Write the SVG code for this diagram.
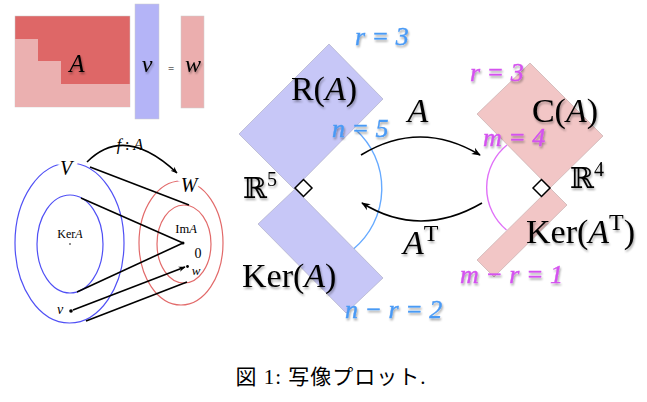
<svg xmlns="http://www.w3.org/2000/svg" width="647" height="402" viewBox="0 0 647 402">
<defs>
<marker id="ah" viewBox="0 0 10 10" refX="9" refY="5" markerWidth="7" markerHeight="7" orient="auto" markerUnits="userSpaceOnUse">
<path d="M0,1 L10,5 L0,9 L3,5 Z" fill="#000"/>
</marker>
<marker id="ahs" viewBox="0 0 10 10" refX="9" refY="5" markerWidth="9" markerHeight="9" orient="auto" markerUnits="userSpaceOnUse">
<path d="M0,1 L10,5 L0,9 L3,5 Z" fill="#000"/>
</marker>
<filter id="sh" x="-20%" y="-20%" width="140%" height="140%">
<feGaussianBlur in="SourceAlpha" stdDeviation="1.2"/>
<feOffset dx="1" dy="1.5" result="b"/>
<feComponentTransfer><feFuncA type="linear" slope="0.35"/></feComponentTransfer>
<feMerge><feMergeNode/><feMergeNode in="SourceGraphic"/></feMerge>
</filter>
</defs>
<style>
.m{font-family:"Liberation Serif","DejaVu Serif",serif;fill:#000}
.i{font-style:italic}
.big{font-size:34px}
.bl{fill:#4a9af5;font-size:26px;font-style:italic;stroke:#4a9af5;stroke-width:0.4}
.mg{fill:#d452ef;font-size:26px;font-style:italic;stroke:#d452ef;stroke-width:0.4}
.ln{stroke:#000;stroke-width:1.6;fill:none}
.bd{fill:#c7c7f7;stroke:#a8a8c0;stroke-width:0.6}
.pd{fill:#f2c6c6;stroke:#c0a8a8;stroke-width:0.6}
.halo{stroke:#fff;stroke-width:7;paint-order:stroke}
</style>

<g id="matrix">
<rect x="15" y="16" width="115" height="91" fill="#de6767" stroke="#ccc" stroke-width="0.5"/>
<polygon points="15,39 38,39 38,61 61,61 61,84 130,84 130,107 15,107" fill="#ebb0b0"/>
<text class="m i" x="77" y="72" font-size="25" text-anchor="middle" filter="url(#sh)">A</text>
</g>
<g id="vecv">
<rect x="135" y="4" width="24" height="115" fill="#b4b4f7" stroke="#ccc" stroke-width="0.5"/>
<text class="m i" x="147" y="72" font-size="24" text-anchor="middle" filter="url(#sh)">v</text>
</g>
<text class="m" x="171" y="72" font-size="11" text-anchor="middle">=</text>
<g id="vecw">
<rect x="181" y="16" width="23" height="92" fill="#ebaeae" stroke="#ccc" stroke-width="0.5"/>
<text class="m i" x="193" y="72" font-size="24" text-anchor="middle" filter="url(#sh)">w</text>
</g>

<g id="setV">
<ellipse cx="69.5" cy="243" rx="54.5" ry="80" fill="none" stroke="#5050f5" stroke-width="1.2"/>
<text class="m i halo" x="66" y="175" font-size="20" text-anchor="middle">V</text>
</g>
<g id="kerA">
<ellipse cx="70" cy="244" rx="33" ry="49" fill="none" stroke="#5050f5" stroke-width="1.2"/>
<text class="m" x="70" y="238" font-size="12" text-anchor="middle">Ker<tspan class="i">A</tspan></text>
<circle cx="70" cy="244" r="0.8" fill="#000"/>
</g>
<g id="setW">
<ellipse cx="181" cy="243" rx="42" ry="62" fill="none" stroke="#e26a6a" stroke-width="1.2"/>
<text class="m i halo" x="189" y="192" font-size="20" text-anchor="middle">W</text>
</g>
<g id="imA">
<ellipse cx="184" cy="244" rx="27" ry="39" fill="none" stroke="#e26a6a" stroke-width="1.2"/>
<text class="m" x="186" y="233" font-size="12.5" text-anchor="middle">Im<tspan class="i">A</tspan></text>
<circle cx="183" cy="243" r="1.5" fill="#000"/>
<text class="m" x="198" y="258" font-size="14" text-anchor="middle">0</text>
<circle cx="187.5" cy="266.5" r="1.4" fill="#000"/>
<text class="m i" x="196" y="275" font-size="13" text-anchor="middle">w</text>
</g>
<g id="pointv">
<circle cx="71" cy="311" r="1.8" fill="#000"/>
<text class="m i" x="60" y="314" font-size="14" text-anchor="middle">v</text>
</g>

<g id="connectors">
<path class="ln" d="M87,162 Q125,124 177,173" marker-end="url(#ah)"/>
<path class="ln" d="M90,167 L189,205"/>
<path class="ln" d="M81,198 L183,243"/>
<path class="ln" d="M77,292 L183,243"/>
<path class="ln" d="M73,310 L185,267" marker-end="url(#ah)"/>
<path class="ln" d="M86,321 L187,282"/>
<path d="M356,130 A79,79 0 0 1 353.5,249" fill="none" stroke="#66aaff" stroke-width="1.4"/>
<path d="M507,145 A55,55 0 0 0 506.5,230" fill="none" stroke="#e070f8" stroke-width="1.4"/>
<path class="ln" d="M361,155 Q420,119 480,155" marker-end="url(#ahs)"/>
<path class="ln" d="M482,203 Q420,239 362,203" marker-end="url(#ahs)"/>
</g>
<text class="m" x="130" y="150" font-size="16" text-anchor="middle"><tspan class="i">f</tspan> : <tspan class="i">A</tspan></text>

<g id="RA">
<polygon class="bd" points="329,44 383,99 294,189 239,134"/>
<text class="m big" x="324" y="100" text-anchor="middle" filter="url(#sh)">R(<tspan class="i">A</tspan>)</text>
<text class="m bl" x="355" y="45" filter="url(#sh)">r = 3</text>
<text class="m bl" x="332" y="137" filter="url(#sh)">n = 5</text>
</g>
<g id="KerA">
<polygon class="bd" points="295,189 383,278 346,313 258,224"/>
<text class="m big" x="242" y="287" filter="url(#sh)">Ker(<tspan class="i">A</tspan>)</text>
<text class="m bl" x="345" y="318" filter="url(#sh)">n − r = 2</text>
</g>
<g id="R5">
<polygon points="295,188 303.5,179.5 312,188 303.5,196.5" fill="#fff" stroke="#000" stroke-width="1.5"/>
<text class="m" x="243" y="198" font-size="29" filter="url(#sh)">ℝ<tspan font-size="20" dy="-12">5</tspan></text>
</g>
<text class="m big i" x="418" y="122" text-anchor="middle" filter="url(#sh)">A</text>
<text class="m big" x="403" y="254" filter="url(#sh)"><tspan class="i">A</tspan><tspan font-size="24" dy="-13">T</tspan></text>

<g id="CA">
<polygon class="pd" points="530,63 603,136 550,188 477,114"/>
<text class="m big" x="565" y="122" text-anchor="middle" filter="url(#sh)">C(<tspan class="i">A</tspan>)</text>
<text class="m mg" x="470" y="81" filter="url(#sh)">r = 3</text>
<text class="m mg" x="483" y="146" filter="url(#sh)">m = 4</text>
</g>
<g id="KerAT">
<polygon class="pd" points="550,188 567,205 494,277 477,260"/>
<text class="m big" x="526" y="243" filter="url(#sh)">Ker(<tspan class="i">A</tspan><tspan font-size="24" dy="-13">T</tspan><tspan dy="13">)</tspan></text>
<text class="m mg" x="460" y="283" filter="url(#sh)">m − r = 1</text>
</g>
<g id="R4">
<polygon points="533,188 541.5,179.5 550,188 541.5,196.5" fill="#fff" stroke="#000" stroke-width="1.5"/>
<text class="m" x="570" y="188" font-size="29" filter="url(#sh)">ℝ<tspan font-size="20" dy="-12">4</tspan></text>
</g>

<text x="331" y="384" font-family="'Liberation Serif','Noto Sans CJK JP',serif" font-size="21" letter-spacing="1" text-anchor="middle">図 1: 写像プロット.</text>
</svg>
